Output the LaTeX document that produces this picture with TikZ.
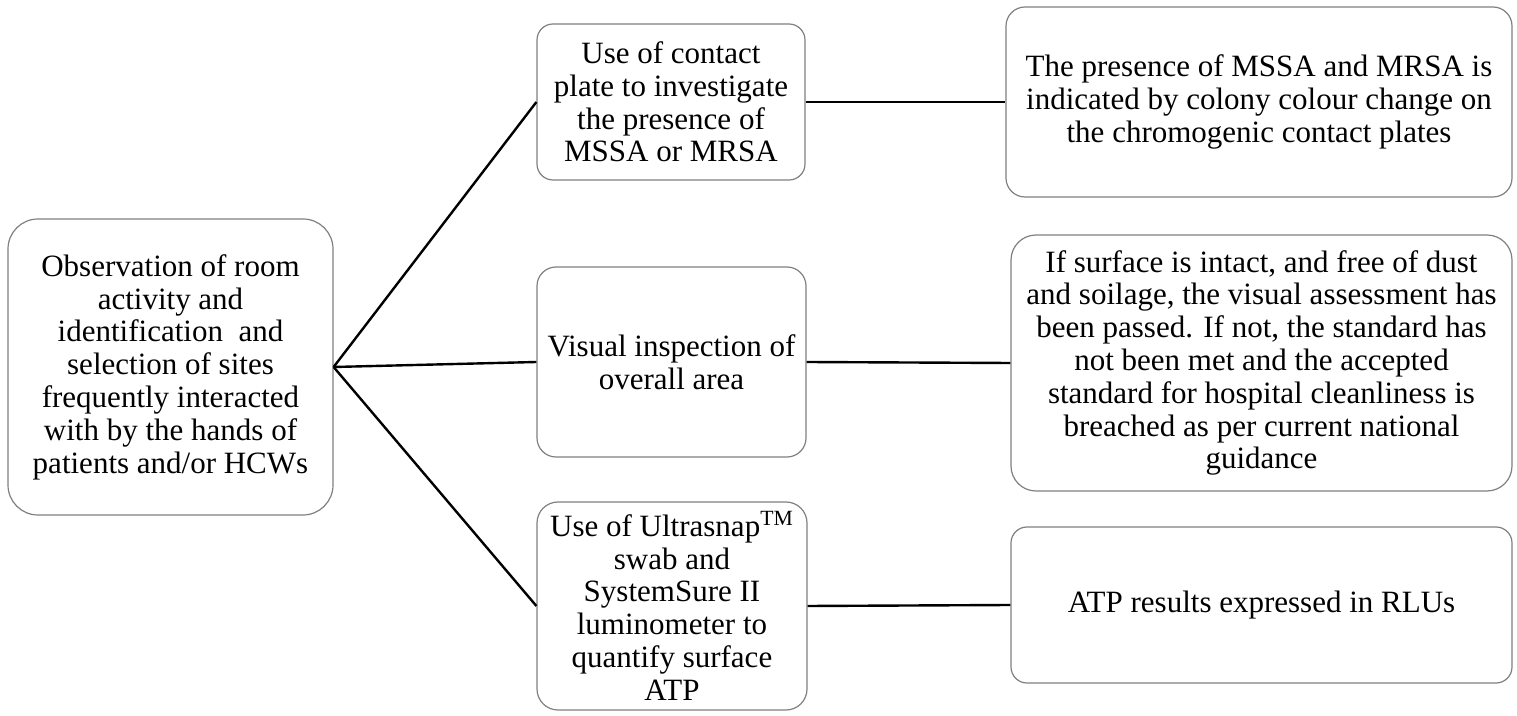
\documentclass[tikz,border=0pt]{standalone}
\usepackage{fontspec}
\setmainfont{Liberation Serif}
\begin{document}
\begin{tikzpicture}[x=0.5pt,y=-0.5pt,
  box/.style={draw=black!50, line width=0.6pt, fill=white, align=center, inner sep=0pt,
    font=\fontsize{15.5}{16.4}\selectfont},
  conn/.style={draw=black, line width=1.2pt}]
\useasboundingbox (0,0) rectangle (1517,716);
\node[box, minimum width=162.5pt, minimum height=148pt, rounded corners=15pt] (L) at (170.5,367)
  {Observation of room\\activity and\\identification\ \ and\\selection of sites\\frequently interacted\\with by the hands of\\patients and/or HCWs};
\node[box, minimum width=134pt, minimum height=78pt, rounded corners=8pt] (M1) at (671,102)
  {Use of contact\\plate to investigate\\the presence of\\MSSA or MRSA};
\node[box, minimum width=134.5pt, minimum height=95pt, rounded corners=9.5pt] (M2) at (671.5,362)
  {Visual inspection of\\overall area};
\node[box, minimum width=135pt, minimum height=104pt, rounded corners=10.5pt] (M3) at (672,606)
  {Use of Ultrasnap\textsuperscript{TM}\\swab and\\SystemSure II\\luminometer to\\quantify surface\\ATP};
\node[box, minimum width=253pt, minimum height=95pt, rounded corners=9.5pt] (R1) at (1259,102)
  {The presence of MSSA and MRSA is\\indicated by colony colour change on\\the chromogenic contact plates};
\node[box, minimum width=250.5pt, minimum height=128pt, rounded corners=12.5pt] (R2) at (1261.5,363)
  {If surface is intact, and free of dust\\and soilage, the visual assessment has\\been passed. If not, the standard has\\not been met and the accepted\\standard for hospital cleanliness is\\breached as per current national\\guidance};
\node[box, minimum width=250.5pt, minimum height=78pt, rounded corners=8pt] (R3) at (1261.5,605)
  {ATP results expressed in RLUs};
\draw[conn] (L.east) -- (M1.west);
\draw[conn] (L.east) -- (M2.west);
\draw[conn] (L.east) -- (M3.west);
\draw[conn] (M1.east) -- (R1.west);
\draw[conn] (M2.east) -- (R2.west);
\draw[conn] (M3.east) -- (R3.west);
\end{tikzpicture}
\end{document}
